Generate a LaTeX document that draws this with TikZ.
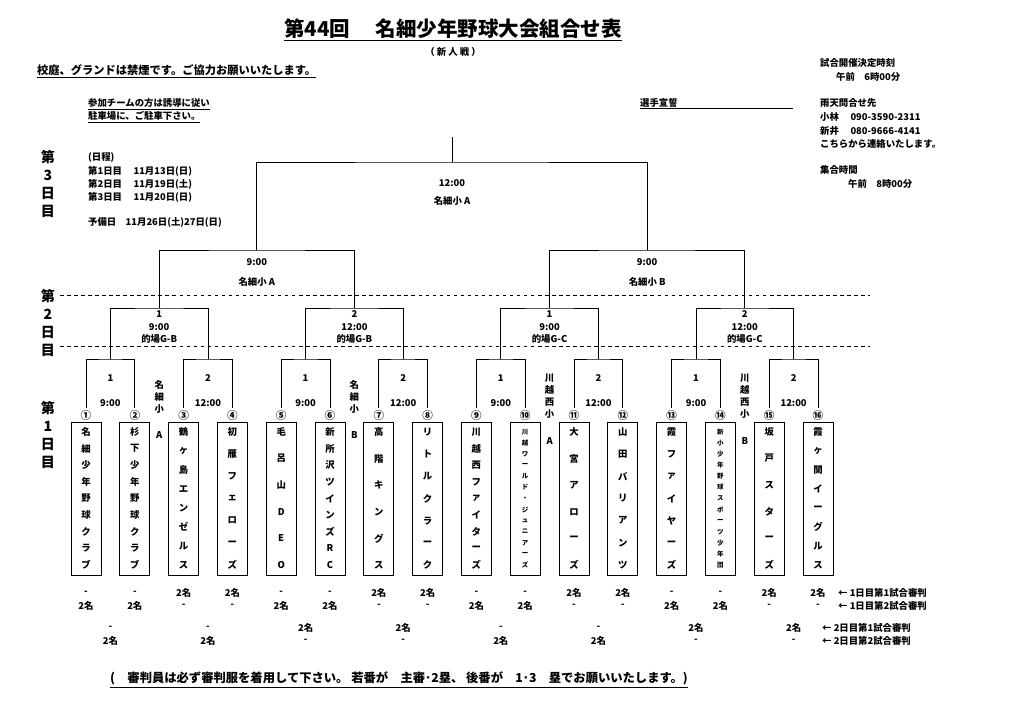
\documentclass[tikz,border=0pt]{standalone}
\usepackage{fontspec}
\setmainfont{Noto Sans CJK JP}
\begin{document}
\begin{tikzpicture}[x=0.03cm,y=-0.03cm,
  every node/.style={font=\fontsize{8}{9}\selectfont\bfseries, inner sep=0},
  teambox/.style={draw, line width=0.7pt, minimum width=0.9cm, minimum height=4.59cm},
  br/.style={line width=0.6pt},
  dl/.style={dashed, line width=0.5pt},
  lft/.style={anchor=west}]
\fill[white] (0,0) rectangle (1024,726);
\useasboundingbox (0,0) rectangle (1024,726);
% header
\node (title) at (453,30) {\fontsize{17.5}{19}\selectfont\bfseries\underline{第44回　 名細少年野球大会組合せ表}};
\node (sub) at (453,52) {（ 新 人 戦 ）};
\node[lft] (smoke) at (37,71) {\fontsize{9.6}{10}\selectfont\bfseries\underline{校庭、グランドは禁煙です。ご協力お願いいたします。}};
\node[lft] (park1) at (88,104) {\underline{参加チームの方は誘導に従い}};
\node[lft] (park2) at (88,117) {\underline{駐車場に、ご駐車下さい。}};
\node[lft] (oath) at (640,103) {選手宣誓};
\draw[line width=0.5pt] (oath.south west)++(0,1) -- ++(153,0);
\node[lft] (r1) at (820,63) {試合開催決定時刻};
\node[lft] (r2) at (836,77) {午前　6時00分};
\node[lft] (r3) at (820,103) {雨天問合せ先};
\node[lft] (r4) at (820,117) {小林　 090-3590-2311};
\node[lft] (r5) at (820,131) {新井　 080-9666-4141};
\node[lft] (r6) at (820,144) {こちらから連絡いたします。};
\node[lft] (r7) at (820,170) {集合時間};
\node[lft] (r8) at (848,184) {午前　8時00分};
\node[lft] (s0) at (88,157) {(日程)};
\node[lft] (s1) at (88,171) {第1日目　 11月13日(日)};
\node[lft] (s2) at (88,184) {第2日目　 11月19日(土)};
\node[lft] (s3) at (88,197) {第3日目　 11月20日(日)};
\node[lft] (s4) at (88,222) {予備日　11月26日(土)27日(日)};
% day labels
\foreach \d/\y in {3/157,2/296,1/408}{
  \node (d\d a) at (48,\y) {\fontsize{12}{12}\selectfont\bfseries 第};
  \node (d\d b) at (48,\y+18) {\fontsize{12}{12}\selectfont\bfseries \d};
  \node (d\d c) at (48,\y+36) {\fontsize{12}{12}\selectfont\bfseries 日};
  \node (d\d d) at (48,\y+54) {\fontsize{12}{12}\selectfont\bfseries 目};
}
\draw[dl] (60,295) -- (870,295);
\draw[dl] (60,346) -- (870,346);
% teams
\foreach \i/\n/\fs/\name in {
 1/9/8/{名,細,少,年,野,球,ク,ラ,ブ},
 2/9/8/{杉,下,少,年,野,球,ク,ラ,ブ},
 3/8/8/{鶴,ヶ,島,エ,ン,ゼ,ル,ス},
 4/7/8/{初,雁,フ,ェ,ロ,ー,ズ},
 5/6/8/{毛,呂,山,D,E,O},
 6/9/8/{新,所,沢,ツ,イ,ン,ズ,R,C},
 7/6/8/{高,階,キ,ン,グ,ス},
 8/7/8/{リ,ト,ル,ク,ラ,ー,ク},
 9/9/8/{川,越,西,フ,ァ,イ,タ,ー,ズ},
 10/13/5.5/{川,越,ワ,ー,ル,ド,・,ジ,ュ,ニ,ア,ー,ズ},
 11/6/8/{大,宮,ア,ロ,ー,ズ},
 12/7/8/{山,田,バ,リ,ア,ン,ツ},
 13/7/8/{霞,フ,ァ,イ,ヤ,ー,ズ},
 14/13/5.5/{新,小,少,年,野,球,ス,ポ,ー,ツ,少,年,団},
 15/6/8/{坂,戸,ス,タ,ー,ズ},
 16/8/8/{霞,ヶ,関,イ,ー,グ,ル,ス}}{
  \pgfmathsetmacro\cx{86+48.8*(\i-1)}
  \node[teambox] (t\i) at (\cx,498.5) {};
  \pgfmathsetmacro\sp{133/(\n-1)}
  \foreach \ch [count=\k] in \name {
    \node (t\i c\k) at (\cx,{432+(\k-1)*\sp}) {\fontsize{\fs}{\fs}\selectfont\bfseries \ch};
  }
}
\foreach \i/\cn in {1/①,2/②,3/③,4/④,5/⑤,6/⑥,7/⑦,8/⑧,9/⑨,10/⑩,11/⑪,12/⑫,13/⑬,14/⑭,15/⑮,16/⑯}{
  \pgfmathsetmacro\cx{86+48.8*(\i-1)}
  \node (n\i) at (\cx,415) {\fontsize{9}{9}\selectfont\bfseries \cn};
  \coordinate (p\i) at (\cx,408);
}
% round 1
\foreach \k/\lab/\tm in {1/1/9:00,2/2/12:00,3/1/9:00,4/2/12:00,5/1/9:00,6/2/12:00,7/1/9:00,8/2/12:00}{
  \pgfmathtruncatemacro\ia{2*\k-1}
  \pgfmathtruncatemacro\ib{2*\k}
  \pgfmathsetmacro\mx{86+48.8*(2*\k-1.5)}
  \coordinate (a\k) at (\mx,359);
  \draw[br] (p\ia) |- (a\k) -| (p\ib);
  \node (a\k l) at (\mx,378) {\lab};
  \node (a\k t) at (\mx,403) {\tm};
}
% round 2
\foreach \j/\lab/\tm/\g in {1/1/9:00/B,2/2/12:00/B,3/1/9:00/C,4/2/12:00/C}{
  \pgfmathtruncatemacro\ka{2*\j-1}
  \pgfmathtruncatemacro\kb{2*\j}
  \pgfmathsetmacro\mx{86+48.8*(4*\j-2.5)}
  \coordinate (b\j) at (\mx,308);
  \draw[br] (a\ka) |- (b\j) -| (a\kb);
  \node (b\j l) at (\mx,314) {\lab};
  \node (b\j t) at (\mx,327) {\tm};
  \node (b\j g) at (\mx,339) {的場G-\g};
}
% round 3
\coordinate (c1) at (256.8,250);
\coordinate (c2) at (647.2,250);
\draw[br] (b1) |- (c1) -| (b2);
\draw[br] (b3) |- (c2) -| (b4);
\node (c1t) at (256.8,262) {9:00};
\node (c1w) at (256.8,282) {名細小 A};
\node (c2t) at (647.2,262) {9:00};
\node (c2w) at (647.2,282) {名細小 B};
% final
\coordinate (f) at (452,162);
\coordinate (top) at (452,137);
\draw[br] (c1) |- (f) -| (c2);
\draw[br] (f) -- (top);
\node (ft) at (452,183) {12:00};
\node (fw) at (452,201) {名細小 A};
% venue labels
\foreach \v/\x/\L in {1/159.2/A,2/354.4/B}{
  \node (v\v a) at (\x,385) {名};
  \node (v\v b) at (\x,397) {細};
  \node (v\v c) at (\x,409) {小};
  \node (v\v d) at (\x,435) {\L};
}
\foreach \v/\x/\L in {3/549.6/A,4/744.8/B}{
  \node (v\v a) at (\x,378) {川};
  \node (v\v b) at (\x,390) {越};
  \node (v\v c) at (\x,402) {西};
  \node (v\v d) at (\x,414) {小};
  \node (v\v e) at (\x,441) {\L};
}
% referees day 1
\foreach \i in {1,...,16}{
  \pgfmathsetmacro\cx{86+48.8*(\i-1)}
  \pgfmathtruncatemacro\ph{mod(\i-1,4)<2 ? 0 : 1}
  \ifnum\ph=0
    \node (q\i a) at (\cx,593) {-};
    \node (q\i b) at (\cx,606) {2名};
  \else
    \node (q\i a) at (\cx,593) {2名};
    \node (q\i b) at (\cx,606) {-};
  \fi
}
\foreach \k in {1,...,8}{
  \pgfmathsetmacro\mx{86+48.8*(2*\k-1.5)}
  \pgfmathtruncatemacro\ph{mod(\k-1,4)<2 ? 0 : 1}
  \ifnum\ph=0
    \node (w\k a) at (\mx,628) {-};
    \node (w\k b) at (\mx,641) {2名};
  \else
    \node (w\k a) at (\mx,628) {2名};
    \node (w\k b) at (\mx,641) {-};
  \fi
}
\node[lft] (L1) at (838,593) {← 1日目第1試合審判};
\node[lft] (L2) at (838,606) {← 1日目第2試合審判};
\node[lft] (L3) at (822,628) {← 2日目第1試合審判};
\node[lft] (L4) at (822,641) {← 2日目第2試合審判};
\node[lft] (note) at (110,680) {\fontsize{10.5}{11}\selectfont\bfseries\underline{(　審判員は必ず審判服を着用して下さい。 若番が　主審･2塁、 後番が　1･3　塁でお願いいたします。)}};
\end{tikzpicture}
\end{document}
